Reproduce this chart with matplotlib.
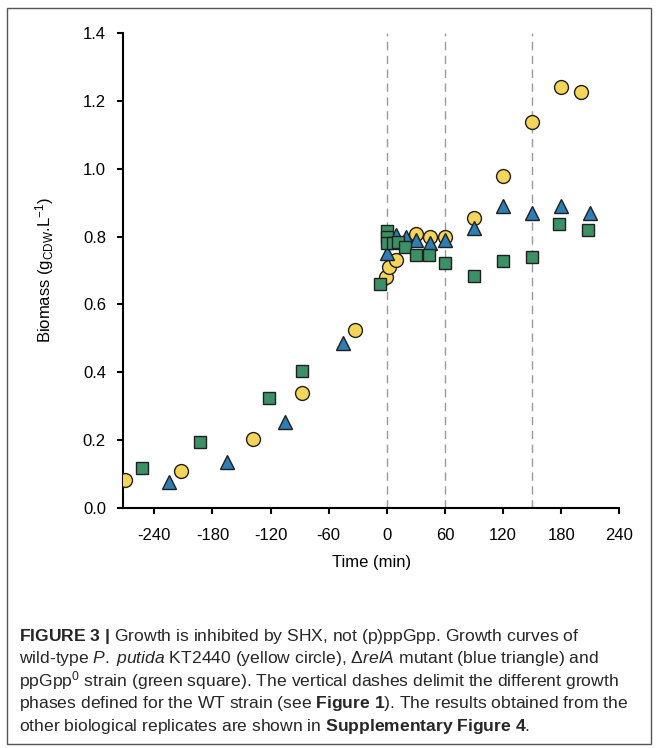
import matplotlib
matplotlib.use("Agg")
import matplotlib.pyplot as plt
from matplotlib.patches import Rectangle

plt.rcParams['font.family'] = ['Liberation Sans', 'DejaVu Sans']
plt.rcParams['mathtext.fontset'] = 'custom'
plt.rcParams['mathtext.rm'] = 'Liberation Sans'
plt.rcParams['mathtext.it'] = 'Liberation Sans:italic'
plt.rcParams['mathtext.bf'] = 'Liberation Sans:bold'
plt.rcParams['mathtext.default'] = 'regular'
plt.rcParams['axes.unicode_minus'] = False

# Dados (tempo em min, biomassa em gCDW/L)
wt_time = [-270, -212, -138, -88, -33, -1, 2, 9, 30, 45, 60, 90, 120, 150, 180, 200]
wt_biomass = [0.08, 0.108, 0.201, 0.337, 0.523, 0.68, 0.71, 0.73, 0.808, 0.80, 0.798,
              0.855, 0.978, 1.138, 1.240, 1.228]

rela_time = [-225, -165, -105, -45, 0, 9, 20, 30, 45, 60, 90, 120, 150, 180, 210]
rela_biomass = [0.076, 0.133, 0.252, 0.485, 0.752, 0.805, 0.80, 0.79, 0.78, 0.79,
                0.825, 0.89, 0.868, 0.891, 0.869]

ppgpp0_time = [-253, -193, -122, -88, -7, 0, 0, 0, 6, 12, 19, 30, 44, 60, 90, 120, 150, 178, 208]
ppgpp0_biomass = [0.118, 0.193, 0.324, 0.403, 0.66, 0.815, 0.80, 0.78, 0.78, 0.785, 0.768,
                  0.746, 0.746, 0.723, 0.682, 0.728, 0.739, 0.836, 0.819]

phase_limits = [0, 60, 150]
x_ticks = [-240, -180, -120, -60, 0, 60, 120, 180, 240]
y_ticks = [0.0, 0.2, 0.4, 0.6, 0.8, 1.0, 1.2, 1.4]

caption_lines = [
    r"$\mathbf{FIGURE}$ $\mathbf{3}$ $\mathbf{|}$ Growth is inhibited by SHX, not (p)ppGpp. Growth curves of",
    r"wild-type $\mathit{P.\;putida}$ KT2440 (yellow circle), Δ$\mathit{relA}$ mutant (blue triangle) and",
    r"ppGpp$^0$ strain (green square). The vertical dashes delimit the different growth",
    r"phases defined for the WT strain (see $\mathbf{Figure}$ $\mathbf{1}$). The results obtained from the",
    r"other biological replicates are shown in $\mathbf{Supplementary}$ $\mathbf{Figure}$ $\mathbf{4}$.",
]

W, H = 657, 748
fig = plt.figure(figsize=(W / 100, H / 100), dpi=100)
ax = fig.add_axes([123.3 / W, 1 - 507.5 / H, (619.3 - 123.3) / W, (507.5 - 33.3) / H])

for x in phase_limits:
    ax.plot([x, x], [0, 1.4], color='#9a9a9a', lw=1.0, dashes=(6, 4), zorder=1)

mk = dict(linestyle='none', markeredgecolor='#1f1f1f', markeredgewidth=1.0, zorder=3)
ax.plot(wt_time, wt_biomass, marker='o', markersize=10, markerfacecolor='#f5d45a', **mk)
ax.plot(rela_time, rela_biomass, marker='^', markersize=10, markerfacecolor='#2e7db3', **mk)
ax.plot(ppgpp0_time, ppgpp0_biomass, marker='s', markersize=8.5, markerfacecolor='#3b9066', **mk)

ax.set_xlim(-272, 240)
ax.set_ylim(0, 1.4)
ax.set_xticks(x_ticks)
ax.set_yticks(y_ticks)
ax.set_yticklabels([f"{v:.1f}" for v in y_ticks])
for s in ['top', 'right']:
    ax.spines[s].set_visible(False)
for s in ['left', 'bottom']:
    ax.spines[s].set_linewidth(1.5)
ax.tick_params(axis='both', direction='out', length=4.5, width=1.5, labelsize=12, colors='black')
ax.tick_params(axis='x', pad=10)
ax.tick_params(axis='y', pad=8)
ax.patch.set_alpha(0)

ax.set_xlabel("Time (min)", fontsize=12, labelpad=9)
ax.set_ylabel(r"Biomass (g$_{CDW}$.L$^{-1}$)", fontsize=12, labelpad=19)

# Moldura em volta da figura
fig.patches.append(Rectangle((7 / W, 1 - 744 / H), (651 - 7) / W, (744 - 8) / H,
                             transform=fig.transFigure, fill=False,
                             edgecolor='#555555', lw=1.0))

y0 = 636
for i, line in enumerate(caption_lines):
    fig.text(19 / W, 1 - (y0 + 22.5 * i) / H, line, fontsize=12.6, color='#262626',
             ha='left', va='center')

plt.savefig("out.png", dpi=100)
